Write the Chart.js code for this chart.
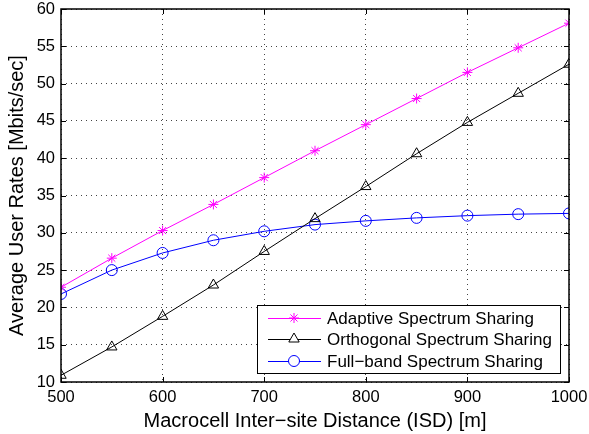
<!DOCTYPE html>
<html>
<head>
<meta charset="utf-8">
<script src="https://cdn.jsdelivr.net/npm/chart.js@4/dist/chart.umd.min.js"></script>
<style>
    html, body { margin: 0; padding: 0; background: #fff; }
    #wrap { width: 589px; height: 434px; }
</style>
</head>
<body>
<div id="wrap"><canvas id="myChart" width="589" height="434"></canvas></div>
<script>
// ISD values (m)
const distances = [500, 550, 600, 650, 700, 750, 800, 850, 900, 950, 1000];
// Average user rates (Mbits/sec)
const adaptive   = [22.7, 26.6, 30.3, 33.8, 37.4, 41.0, 44.5, 48.0, 51.5, 54.8, 58.1];
const orthogonal = [10.9, 14.7, 18.8, 23.0, 27.5, 31.9, 36.2, 40.6, 44.8, 48.7, 52.6];
const fullband   = [21.8, 25.0, 27.3, 29.0, 30.2, 31.1, 31.6, 32.0, 32.3, 32.5, 32.6];

const xTicks = [500, 600, 700, 800, 900, 1000];
const yTicks = [10, 15, 20, 25, 30, 35, 40, 45, 50, 55, 60];

const seriesNames = ["Adaptive Spectrum Sharing", "Orthogonal Spectrum Sharing", "Full\u2212band Spectrum Sharing"];

const police = "'Liberation Sans', Arial, Helvetica, sans-serif";

function toPoints(vals) {
    return distances.map((d, i) => ({ x: d, y: vals[i] }));
}

// Cadre, graduations vers l'intérieur et légende façon MATLAB
const matlabBox = {
    id: 'matlabBox',
    afterDraw(chart) {
        const ctx = chart.ctx;
        const a = chart.chartArea;
        const xs = chart.scales.x;
        const ys = chart.scales.y;
        ctx.save();
        ctx.strokeStyle = '#000';
        ctx.lineWidth = 1;
        const tl = 5;
        ctx.beginPath();
        xTicks.forEach(v => {
            const px = Math.round(xs.getPixelForValue(v)) + 0.5;
            ctx.moveTo(px, a.bottom); ctx.lineTo(px, a.bottom - tl);
            ctx.moveTo(px, a.top); ctx.lineTo(px, a.top + tl);
        });
        yTicks.forEach(v => {
            const py = Math.round(ys.getPixelForValue(v)) + 0.5;
            ctx.moveTo(a.left, py); ctx.lineTo(a.left + tl, py);
            ctx.moveTo(a.right, py); ctx.lineTo(a.right - tl, py);
        });
        ctx.stroke();
        ctx.lineWidth = 1.5;
        ctx.strokeRect(a.left, a.top, a.right - a.left, a.bottom - a.top);

        // légende
        const lx = 257.5, ly = 305.5, lw = 303, lh = 68;
        ctx.fillStyle = '#fff';
        ctx.fillRect(lx, ly, lw, lh);
        ctx.lineWidth = 1;
        ctx.strokeStyle = '#000';
        ctx.strokeRect(lx, ly, lw, lh);
        const rows = [318, 339, 361];
        ctx.font = '17px ' + police;
        ctx.textBaseline = 'middle';
        chart.data.datasets.forEach((ds, i) => {
            const y = rows[i];
            ctx.strokeStyle = ds.borderColor;
            ctx.lineWidth = 1;
            ctx.beginPath();
            ctx.moveTo(268, y + 0.5); ctx.lineTo(321, y + 0.5);
            ctx.stroke();
            ctx.fillStyle = '#fff';
            Chart.helpers.drawPoint(ctx, {
                pointStyle: ds.pointStyle, radius: ds.pointRadius, borderWidth: 1
            }, 294, y);
            ctx.fillStyle = '#000';
            ctx.fillText(ds.label, 327, y + 1);
        });
        ctx.restore();
    }
};

const ctx = document.getElementById("myChart").getContext("2d");
const chart = new Chart(ctx, {
    type: 'scatter',
    data: {
        datasets: [
            {
                label: seriesNames[0],
                data: toPoints(adaptive),
                showLine: true,
                borderColor: '#ff00ff',
                backgroundColor: 'rgba(0,0,0,0)',
                borderWidth: 1,
                pointStyle: 'star',
                pointRadius: 5,
                pointBorderWidth: 1
            },
            {
                label: seriesNames[1],
                data: toPoints(orthogonal),
                showLine: true,
                borderColor: '#000000',
                backgroundColor: 'rgba(0,0,0,0)',
                borderWidth: 1,
                pointStyle: 'triangle',
                pointRadius: 6,
                pointBorderWidth: 1
            },
            {
                label: seriesNames[2],
                data: toPoints(fullband),
                showLine: true,
                borderColor: '#0000ff',
                backgroundColor: 'rgba(0,0,0,0)',
                borderWidth: 1,
                pointStyle: 'circle',
                pointRadius: 5.5,
                pointBorderWidth: 1
            }
        ]
    },
    options: {
        responsive: false,
        animation: false,
        layout: { padding: { top: 9, right: 20, left: 5, bottom: 1 } },
        plugins: {
            legend: { display: false },
            tooltip: { enabled: false }
        },
        scales: {
            x: {
                type: 'linear',
                min: 500,
                max: 1000,
                afterBuildTicks: (s) => { s.ticks = xTicks.map(v => ({ value: v })); },
                afterFit: (s) => {
                    s.height = 51;
                    s.paddingLeft = 0;
                    s.paddingRight = 0;
                },
                grid: {
                    color: '#444',
                    lineWidth: 1,
                    drawTicks: false
                },
                border: { display: false, dash: [1, 4] },
                ticks: {
                    color: '#000',
                    font: { size: 16.5, family: police },
                    padding: 6,
                    maxRotation: 0,
                    callback: (v) => String(v)
                },
                title: {
                    display: true,
                    text: 'Macrocell Inter\u2212site Distance (ISD) [m]',
                    color: '#000',
                    font: { size: 20, family: police },
                    padding: { top: 0, bottom: 0 }
                }
            },
            y: {
                min: 10,
                max: 60,
                afterBuildTicks: (s) => { s.ticks = yTicks.map(v => ({ value: v })); },
                afterFit: (s) => {
                    s.width = 56;
                    s.paddingTop = 0;
                    s.paddingBottom = 0;
                },
                grid: {
                    color: '#444',
                    lineWidth: 1,
                    drawTicks: false
                },
                border: { display: false, dash: [1, 4] },
                ticks: {
                    color: '#000',
                    font: { size: 16.5, family: police },
                    padding: 6,
                    callback: (v) => String(v)
                },
                title: {
                    display: true,
                    text: 'Average User Rates [Mbits/sec]',
                    color: '#000',
                    font: { size: 20, family: police },
                    padding: { top: 0, bottom: 0 }
                }
            }
        }
    },
    plugins: [matlabBox]
});
</script>
</body>
</html>
